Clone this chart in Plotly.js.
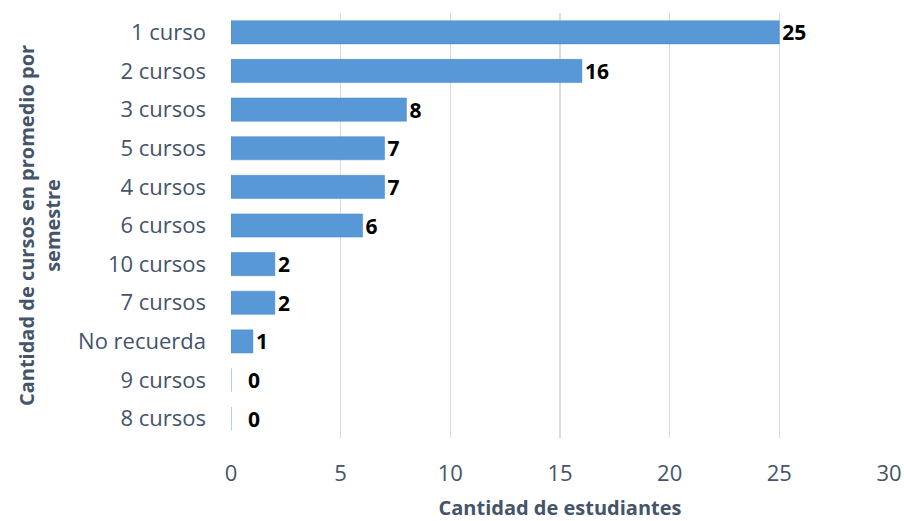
<!DOCTYPE html>
<html><head><meta charset="utf-8">
<script src="https://cdn.plot.ly/plotly-3.0.1.min.js"></script>
<style>body{margin:0;background:#fff}#c{width:904px;height:521px}</style>
</head><body><div id="c"></div>
<script>
const categories = ["1 curso","2 cursos","3 cursos","5 cursos","4 cursos","6 cursos","10 cursos","7 cursos","No recuerda","9 cursos","8 cursos"];
const values = [25,16,8,7,7,6,2,2,1,0,0];
const xTicks = [0,5,10,15,20,25,30];
const fontFam = "'Open Sans', sans-serif";
const textCol = "#44546a";
Plotly.newPlot("c",[{
  type:"bar", orientation:"h",
  y:categories, x:values,
  marker:{color:"#5898d7", line:{color:"#4a88c6", width:0.5}},
  text:values.map(v => v === 0 ? "\u2002\u20090" : String(v)), textposition:"outside",
  constraintext:"none",
  textfont:{family:fontFam, size:21, color:"#000", weight:"bold"},
  cliponaxis:false, hoverinfo:"none"
}],{
  width:904, height:521,
  margin:{l:231,r:15,t:13,b:83},
  paper_bgcolor:"#fff", plot_bgcolor:"#fff",
  bargap:0.4, showlegend:false,
  font:{family:fontFam, color:textCol},
  xaxis:{range:[0,30], tickvals:xTicks, showgrid:true, gridcolor:"#d9dde3", gridwidth:1.3,
    zeroline:false, showline:false, ticks:"", tickfont:{size:22, color:textCol}, ticklabelstandoff:20,
    title:{text:"Cantidad de estudiantes", font:{size:20, color:textCol, weight:"bold"}, standoff:18}},
  yaxis:{autorange:"reversed", categoryorder:"array", categoryarray:categories,
    showgrid:false, zeroline:false, showline:false, ticks:"", ticklen:0,
    tickfont:{size:22, color:textCol}, ticklabelstandoff:24,
    title:{text:"Cantidad de cursos en promedio por<br>semestre", font:{size:20, color:textCol, weight:"bold"}, standoff:12}}
},{staticPlot:true});
</script></body></html>
